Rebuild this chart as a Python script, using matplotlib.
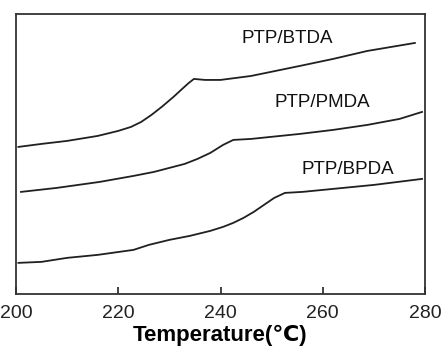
import matplotlib.pyplot as plt

# DSC traces (arbitrary heat-flow units, offset per sample)
t_btda = [200.5, 205, 210, 216, 220, 222.5, 224.5, 226.5, 228.5, 230.8, 232.5, 233.8, 234.8, 237, 240, 246, 255.5, 262, 268.7, 278]
y_btda = [147, 150, 153, 158, 163, 167, 172, 179, 187, 197, 205, 211, 215, 214, 214, 218, 228, 235, 243, 251]

t_pmda = [201, 208, 216.4, 223, 227, 230, 233, 235.5, 238, 240.5, 242.5, 246, 255.5, 262, 268.7, 275, 279.4]
y_pmda = [102, 106, 112, 118, 122, 126, 130, 135, 141, 149, 154, 155, 160, 164, 169, 175, 182]

t_bpda = [200.5, 205, 210, 216, 223, 226, 230, 234, 238, 240.5, 242.5, 244.5, 246.5, 248.5, 250.5, 252.6, 256, 262, 270, 279.4]
y_bpda = [31, 32, 36, 39, 44, 49, 54, 58, 63, 67, 71, 76, 82, 89, 96, 101, 102, 105, 109, 115]

labels = ['PTP/BTDA', 'PTP/PMDA', 'PTP/BPDA']
label_t = [253, 260, 264.8]
label_y = [255, 191, 124]

plt.rcParams['font.family'] = ['Liberation Sans', 'DejaVu Sans']

fig = plt.figure(figsize=(4.41, 3.49), dpi=100)
ax = fig.add_axes([0.036, 0.158, 0.928, 0.802])

for t, y in [(t_btda, y_btda), (t_pmda, y_pmda), (t_bpda, y_bpda)]:
    ax.plot(t, y, color='#202020', lw=1.3)

for lab, tx, ty in zip(labels, label_t, label_y):
    ax.text(tx, ty, lab, fontsize=13.5, ha='center', va='center', color='#111111')

ax.set_xlim(200, 280)
ax.set_ylim(0, 280)
ax.set_xticks([200, 220, 240, 260, 280])
ax.set_yticks([])
ax.tick_params(axis='x', direction='in', length=5, width=1.2, labelsize=14, pad=8, colors='#222222')
for s in ax.spines.values():
    s.set_linewidth(1.3)
    s.set_color('#333333')
ax.set_xlabel('Temperature(℃)', fontsize=16, fontweight='bold', labelpad=2)

fig.savefig('out.png', dpi=100)
